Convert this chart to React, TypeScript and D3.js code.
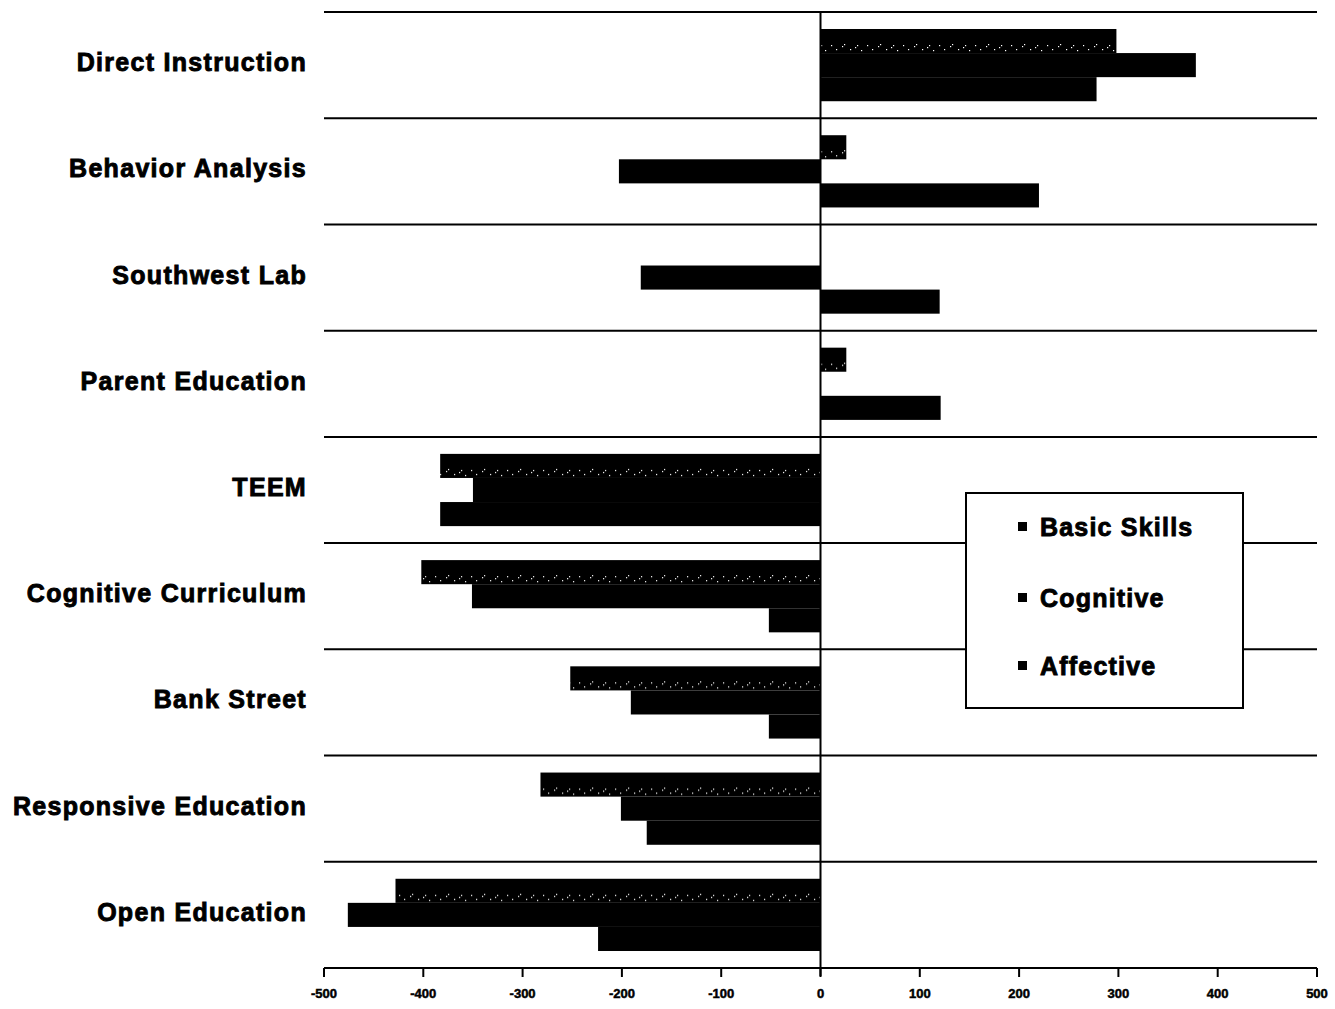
import React from "react";
import * as d3 from "d3";

const categories = [
  "Direct Instruction",
  "Behavior Analysis",
  "Southwest Lab",
  "Parent Education",
  "TEEM",
  "Cognitive Curriculum",
  "Bank Street",
  "Responsive Education",
  "Open Education",
];
const seriesNames = ["Basic Skills", "Cognitive", "Affective"];
const basicSkills = [298, 26, 0, 26, -383, -402, -252, -282, -428];
const cognitive = [378, -203, -181, 0, -350, -351, -191, -201, -476];
const affective = [278, 220, 120, 121, -383, -52, -52, -175, -224];
const xTicks = [-500, -400, -300, -200, -100, 0, 100, 200, 300, 400, 500];

const W = 1335;
const H = 1009;
const left = 324;
const right = 1317;
const top = 12;
const bottom = 968;
const FONT = "'Liberation Sans', Arial, sans-serif";

export default function App() {
  const x = d3.scaleLinear().domain([-500, 500]).range([left, right]);
  const y = d3.scaleBand<string>().domain(categories).range([top, bottom]).padding(0);
  const bw = y.bandwidth();
  const sub = d3
    .scaleBand<string>()
    .domain(seriesNames)
    .range([bw * 0.16, bw * 0.84])
    .padding(0);
  const values = [basicSkills, cognitive, affective];
  const fills = ["url(#dots)", "#000", "#000"];

  return (
    <svg
      width={W}
      height={H}
      style={{ position: "absolute", left: 0, top: 0, background: "#fff" }}
    >
      <defs>
        <pattern id="dots" patternUnits="userSpaceOnUse" width="36" height="24" x="0" y="0">
          <rect width="36" height="24" fill="#000" />
          <rect x="3" y="9" width="1.2" height="1.2" fill="#fff" />
          <rect x="8" y="13" width="1.2" height="1.2" fill="#fff" />
          <rect x="14" y="10" width="1.2" height="1.2" fill="#fff" />
          <rect x="16" y="8" width="1.2" height="1.2" fill="#fff" />
          <rect x="22" y="13" width="1.2" height="1.2" fill="#fff" />
          <rect x="27" y="11" width="1.2" height="1.2" fill="#fff" />
          <rect x="29" y="9" width="1.2" height="1.2" fill="#fff" />
          <rect x="33" y="14" width="1.2" height="1.2" fill="#fff" />
        </pattern>
      </defs>

      {/* bars */}
      {categories.map((c, i) => (
        <g key={c} transform={`translate(0,${y(c)})`}>
          {seriesNames.map((s, k) => {
            const v = values[k][i];
            if (v === 0) return null;
            const x0 = x(Math.min(0, v));
            const x1 = x(Math.max(0, v));
            return (
              <rect
                key={s}
                x={x0}
                y={sub(s)}
                width={x1 - x0}
                height={sub.bandwidth()}
                fill={fills[k]}
              />
            );
          })}
        </g>
      ))}

      {/* horizontal separators */}
      {categories.map((c) => (
        <line
          key={"g" + c}
          x1={left}
          x2={right}
          y1={y(c)}
          y2={y(c)}
          stroke="#000"
          strokeWidth={2}
        />
      ))}
      <line x1={left} x2={right} y1={bottom} y2={bottom} stroke="#000" strokeWidth={2} />

      {/* zero line */}
      <line x1={x(0)} x2={x(0)} y1={top} y2={bottom + 8} stroke="#000" strokeWidth={2} />

      {/* x ticks */}
      {xTicks.map((t) => (
        <g key={t}>
          <line x1={x(t)} x2={x(t)} y1={bottom} y2={bottom + 9} stroke="#000" strokeWidth={2} />
          <text
            x={x(t)}
            y={bottom + 30}
            textAnchor="middle"
            fontFamily={FONT}
            fontWeight="bold"
            fontSize={13}
            stroke="#000"
            strokeWidth={0.5}
          >
            {t}
          </text>
        </g>
      ))}

      {/* category labels */}
      {categories.map((c) => (
        <text
          key={"l" + c}
          x={307}
          y={(y(c) as number) + bw / 2}
          dy={6}
          textAnchor="end"
          fontFamily={FONT}
          fontWeight="bold"
          fontSize={25}
          letterSpacing={1.3}
          stroke="#000"
          strokeWidth={0.9}
        >
          {c}
        </text>
      ))}

      {/* legend */}
      <g transform="translate(966,493)">
        <rect x={0} y={0} width={277} height={215} fill="#fff" stroke="#000" strokeWidth={2} />
        {seriesNames.map((s, k) => {
          const ly = [34, 105, 173][k];
          return (
            <g key={s} transform={`translate(52,${ly})`}>
              <rect x={0} y={-5} width={9} height={9} fill={fills[k]} />
              <text
                x={22}
                y={0}
                dy={9}
                fontFamily={FONT}
                fontWeight="bold"
                fontSize={25}
                letterSpacing={1.2}
                stroke="#000"
                strokeWidth={0.9}
              >
                {s}
              </text>
            </g>
          );
        })}
      </g>
    </svg>
  );
}
